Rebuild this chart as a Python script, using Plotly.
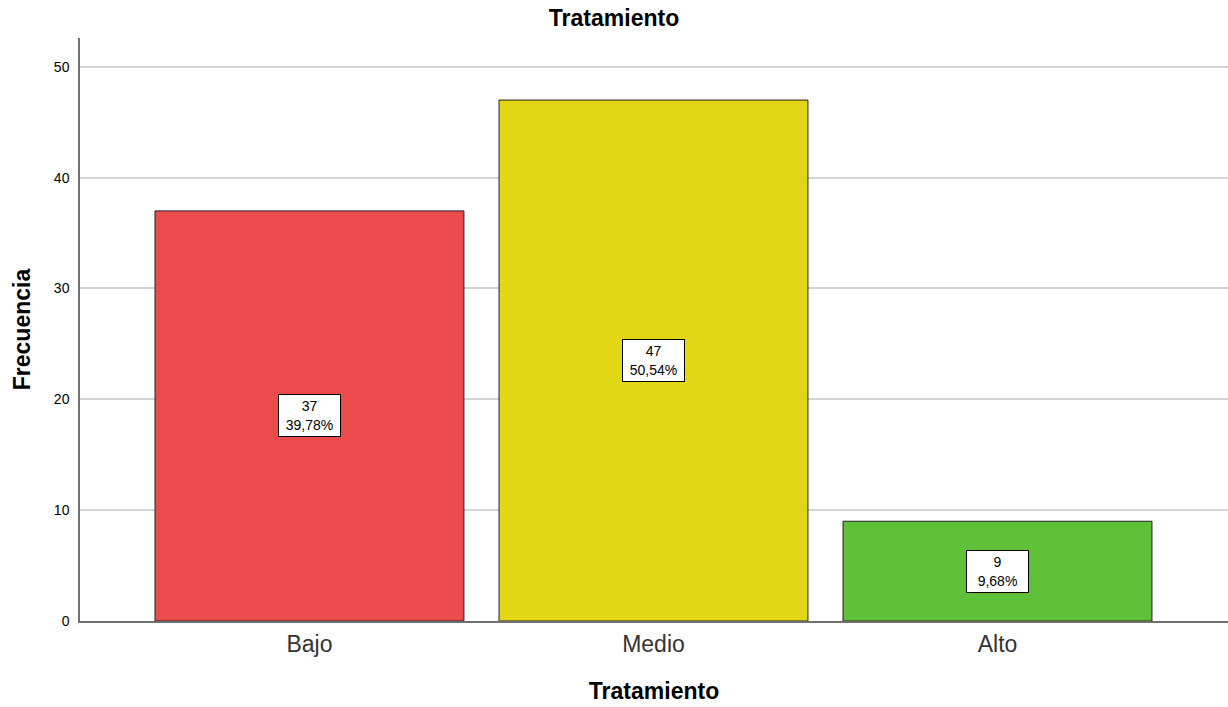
import plotly.graph_objects as go

categories = ["Bajo", "Medio", "Alto"]
frecuencia = [37, 47, 9]
porcentajes = ["39,78%", "50,54%", "9,68%"]
colores = ["#EC4B4B", "#E1D712", "#5EC137"]

fig = go.Figure()
fig.add_trace(go.Bar(
    x=list(range(len(categories))),
    y=frecuencia,
    width=0.898,
    marker=dict(color=colores, line=dict(color="#222222", width=1)),
    hoverinfo="skip",
))

for i, (v, p) in enumerate(zip(frecuencia, porcentajes)):
    fig.add_annotation(
        x=i, y=v / 2, text=f"{v}<br>{p}", showarrow=False,
        font=dict(family="Arial", size=14, color="black"),
        width=57, height=37, align="center", valign="middle",
        bgcolor="white", bordercolor="black", borderwidth=1, borderpad=2,
    )

fig.update_layout(
    width=1228, height=707,
    margin=dict(l=80, r=0, t=38, b=86),
    plot_bgcolor="white", paper_bgcolor="white",
    showlegend=False,
    title=dict(text="<b>Tratamiento</b>", x=0.5, xanchor="center", y=0.974, yanchor="middle",
               font=dict(family="Arial", size=23, color="black")),
    font=dict(family="Arial", color="black"),
)
fig.update_xaxes(
    tickmode="array", tickvals=list(range(len(categories))), ticktext=categories,
    range=[-0.667, 2.67], showgrid=False, zeroline=False,
    showline=True, linecolor="#707070", linewidth=1.5,
    tickfont=dict(family="Arial", size=23, color="#333333"),
    ticks="", ticklabelstandoff=2,
    title=dict(text="<b>Tratamiento</b>", font=dict(family="Arial", size=23, color="black"), standoff=27),
)
fig.update_yaxes(
    range=[0, 52.6], tickvals=[0, 10, 20, 30, 40, 50],
    showgrid=True, gridcolor="#d4d4d4", gridwidth=1.5, zeroline=False,
    showline=True, linecolor="#707070", linewidth=1.5,
    tickfont=dict(family="Arial", size=14, color="black"),
    ticks="", ticklabelstandoff=6,
    title=dict(text="<b>Frecuencia</b>", font=dict(family="Arial", size=23, color="black"), standoff=17),
)

fig.write_html("out.html")
